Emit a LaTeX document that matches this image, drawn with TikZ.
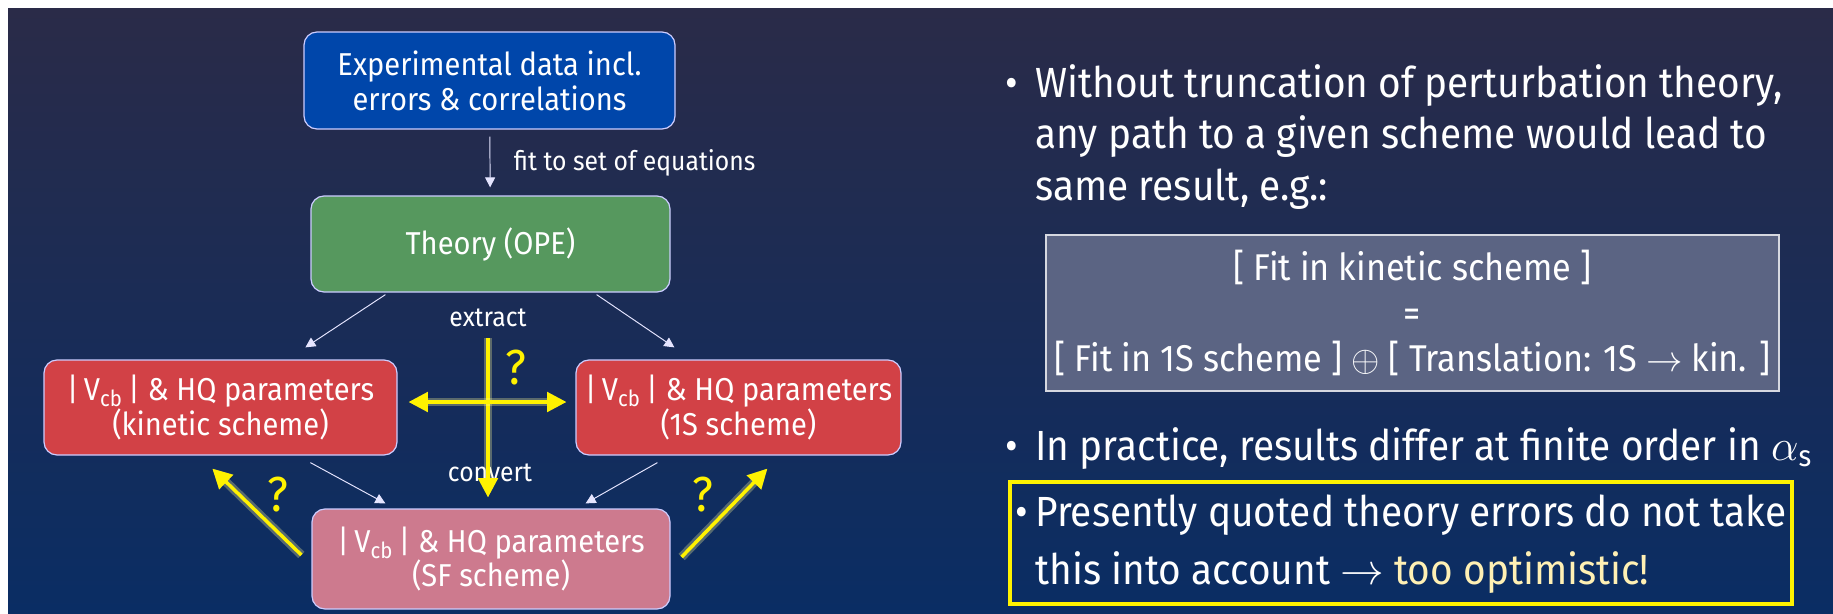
\documentclass[tikz,border=0pt]{standalone}
\usepackage{fontspec}
\setmainfont{Fira Sans}[FakeStretch=0.92]
\usetikzlibrary{arrows.meta,positioning,calc}

\definecolor{bgtop}{RGB}{42,43,72}
\definecolor{bgbot}{RGB}{10,45,100}
\definecolor{expblue}{RGB}{0,70,170}
\definecolor{opegreen}{RGB}{86,152,94}
\definecolor{schred}{RGB}{210,65,70}
\definecolor{sfpink}{RGB}{205,122,142}
\definecolor{eqgray}{RGB}{91,100,131}
\definecolor{lightyel}{RGB}{255,240,180}

\tikzset{
  box/.style={draw=white!80!blue, line width=0.7pt, rounded corners=0.26cm,
    text=white, align=center, inner sep=0pt, minimum height=1.92cm,
    font=\fontsize{18}{19.8}\selectfont},
  flow/.style={draw=white!90!blue, line width=0.55pt,
    -{Triangle[length=5.7pt,width=5.7pt]}},
  ylw/.style={draw=yellow, line width=2pt,
    >={Triangle[length=11pt,width=11pt]},
    preaction={draw=yellow!40!white, opacity=0.3, line width=5pt}},
  lbl/.style={text=white, font=\fontsize{15.3}{17}\selectfont},
  qm/.style={text=yellow, font=\fontsize{28}{30}\selectfont},
  txt/.style={text=white, align=left, anchor=base west, inner sep=0pt,
    font=\fontsize{24}{29.2}\selectfont},
}

\begin{document}
\begin{tikzpicture}
  \useasboundingbox (0,0) rectangle (36.66,-12.26);
  \fill[white] (0,0) rectangle (36.66,-12.26);
  \shade[top color=bgtop, bottom color=bgbot] (0.16,-0.16) rectangle (36.66,-12.26);

  \node[box, fill=expblue, minimum width=7.42cm, minimum height=1.94cm] (data) at (9.79,-1.61)
    {Experimental data incl.\\errors \& correlations};
  \node[box, fill=opegreen, minimum width=7.18cm] (ope) at (9.81,-4.88) {Theory (OPE)};
  \node[box, fill=schred, minimum width=7.06cm, minimum height=1.9cm] (kin) at (4.41,-8.15)
    {|\,V\textsubscript{cb}\,| \& HQ parameters\\(kinetic scheme)};
  \node[box, fill=schred, minimum width=6.5cm, minimum height=1.9cm] (ones) at (14.77,-8.15)
    {|\,V\textsubscript{cb}\,| \& HQ parameters\\(1S scheme)};
  \node[box, fill=sfpink, minimum width=7.16cm, minimum height=2cm] (sf) at (9.82,-11.18)
    {|\,V\textsubscript{cb}\,| \& HQ parameters\\(SF scheme)};

  \draw[flow, shorten <=0.14cm, shorten >=0.16cm] (data) -- node[lbl, right=0.35cm] {fit to set of equations} (ope);
  \draw[flow] ([xshift=1.5cm,yshift=-0.04cm]ope.south west) -- ([xshift=5.24cm,yshift=0.24cm]kin.north west);
  \draw[flow] ([xshift=-1.48cm,yshift=-0.04cm]ope.south east) -- ([xshift=1.98cm,yshift=0.24cm]ones.north west);
  \draw[flow] ([xshift=5.34cm,yshift=-0.14cm]kin.south west) -- ([xshift=1.48cm,yshift=0.1cm]sf.north west);
  \draw[flow] ([xshift=1.64cm,yshift=-0.14cm]ones.south west) -- ([xshift=-1.7cm,yshift=0.1cm]sf.north east);

  \node[lbl] (ext) at (9.76,-6.36) {extract};
  \node[lbl] (conv) at (9.8,-9.46) {convert};

  \coordinate (ctop) at (9.76,-6.76);
  \draw[ylw, ->, shorten >=0.22cm] (ctop) -- (ctop |- sf.north);
  \draw[ylw, <->, shorten <=0.22cm, shorten >=0.18cm] ([yshift=0.11cm]kin.east) -- ([yshift=0.11cm]ones.west);
  \draw[ylw, ->] ([xshift=-0.2cm,yshift=0.08cm]sf.west) -- ([xshift=3.38cm,yshift=-0.26cm]kin.south west);
  \draw[ylw, ->] ([xshift=0.22cm,yshift=0.04cm]sf.east) -- ([xshift=3.84cm,yshift=-0.26cm]ones.south west);
  \node[qm] (q1) at (10.32,-7.36) {?};
  \node[qm] (q2) at (5.56,-9.9) {?};
  \node[qm] (q3) at (14.06,-9.9) {?};

  \node[txt] (b1) at (20.1,-1.94) {•};
  \node[txt] (t1) at (20.7,-4.0)
    {Without truncation of perturbation theory,\\any path to a given scheme would lead to\\same result, e.g.:};
  \node[draw=white!75!eqgray, fill=eqgray, line width=0.7pt, text=white, align=center,
    minimum width=14.66cm, minimum height=3.12cm, font=\fontsize{21.2}{26}\selectfont] (eq) at (28.25,-6.26)
    {{[} Fit in kinetic scheme {]}\\=\\{[} Fit in 1S scheme {]} $\oplus$ {[} Translation: 1S $\rightarrow$ kin. {]}};
  \node[txt] (b2) at (20.1,-9.2) {•};
  \node[txt] (t2) at (20.7,-9.2) {In practice, results differ at finite order in $\alpha$\textsubscript{s}};
  \node[draw=yellow, line width=2.5pt, minimum width=15.64cm, minimum height=2.44cm] (hl) at (28.02,-10.86) {};
  \node[txt] (b3) at (20.3,-10.52) {•};
  \node[txt, font=\fontsize{24}{33}\selectfont] (t3) at (20.7,-11.68)
    {Presently quoted theory errors do not take\\this into account $\rightarrow$ \textcolor{lightyel}{too optimistic!}};
\end{tikzpicture}
\end{document}
